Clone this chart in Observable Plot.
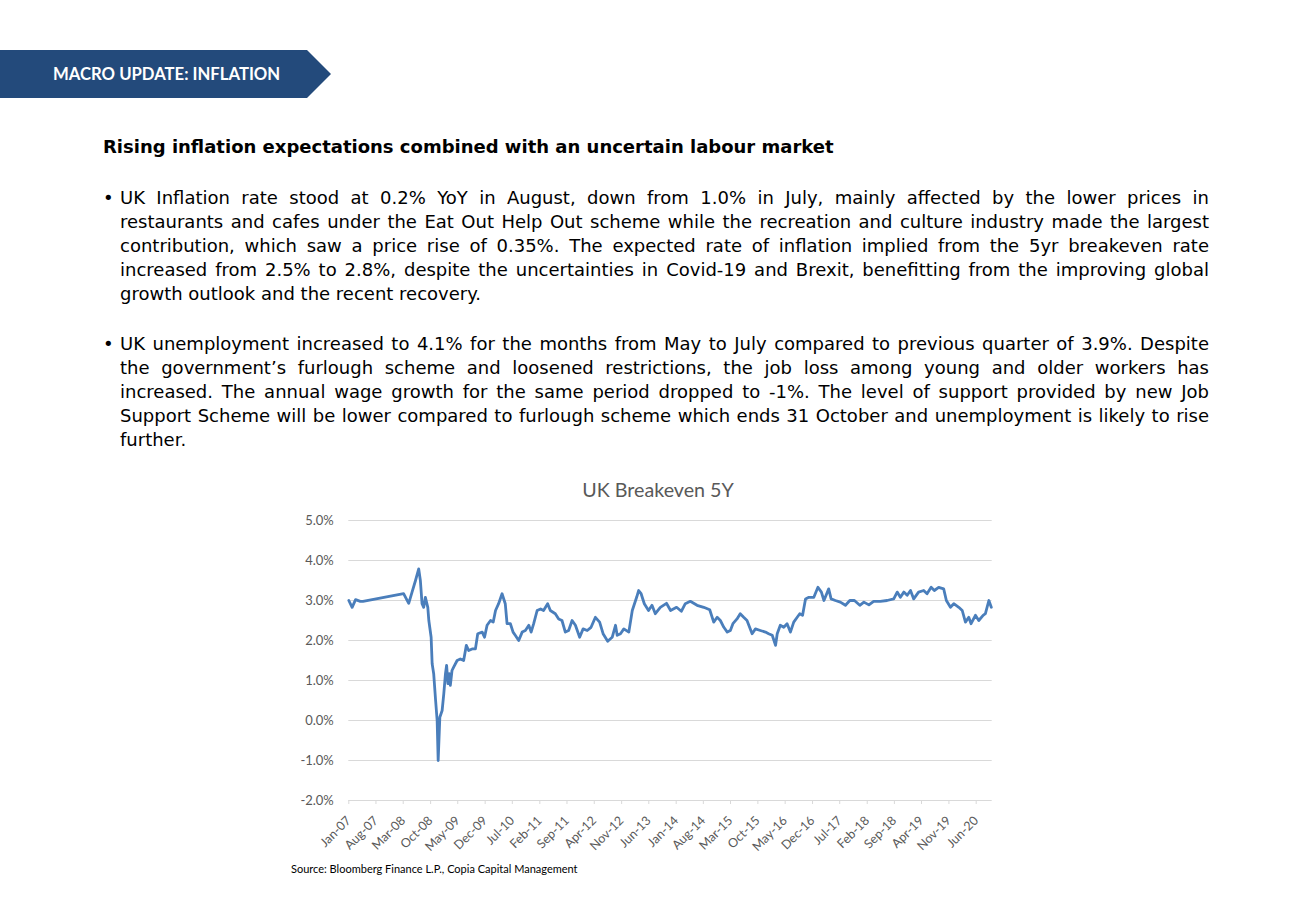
<!DOCTYPE html>
<html><head><meta charset="utf-8">
<script src="https://cdn.jsdelivr.net/npm/d3@7"></script>
<script src="https://cdn.jsdelivr.net/npm/@observablehq/plot@0.6"></script>
<style>
body{margin:0;width:1312px;height:908px;position:relative;background:#fff;overflow:hidden}
.abs{position:absolute}
#banner{left:0;top:50px}
#bannerText{left:53px;top:62px;font-family:Lato,"Open Sans",sans-serif;font-weight:700;font-size:16.7px;color:#fff;line-height:24px;white-space:nowrap}
#heading{left:103px;top:135px;font-family:"DejaVu Sans",sans-serif;font-weight:700;font-size:18px;line-height:24px;color:#000;white-space:nowrap}
.para{left:0;font-family:"DejaVu Sans",sans-serif;font-size:18px;line-height:24px;color:#000}
.ln{position:absolute;left:120px;white-space:nowrap}
.bul{position:absolute;left:103px}
#ctitle{left:0;width:1316px;text-align:center;top:478px;font-family:Lato,sans-serif;font-size:19.7px;color:#595959;line-height:24px}
#chart{left:0;top:500px}
#source{left:291px;top:862px;font-family:Lato,sans-serif;font-size:11px;color:#000;white-space:nowrap}
</style></head>
<body>
<svg id="banner" class="abs" width="340" height="50"><polygon points="0,0 307,0 331,24 307,48 0,48" fill="#234a7b"/></svg>
<div id="bannerText" class="abs">MACRO UPDATE: INFLATION</div>
<div id="heading" class="abs">Rising inflation expectations combined with an uncertain labour market</div>
<div id="p1" class="abs para"></div>
<div id="p2" class="abs para"></div>
<div id="ctitle" class="abs">UK Breakeven 5Y</div>
<div id="chart" class="abs"></div>
<div id="source" class="abs">Source: Bloomberg Finance L.P., Copia Capital Management</div>
<script>
const para1Lines = [
  "UK Inflation rate stood at 0.2% YoY in August, down from 1.0% in July, mainly affected by the lower prices in",
  "restaurants and cafes under the Eat Out Help Out scheme while the recreation and culture industry made the largest",
  "contribution, which saw a price rise of 0.35%. The expected rate of inflation implied from the 5yr breakeven rate",
  "increased from 2.5% to 2.8%, despite the uncertainties in Covid-19 and Brexit, benefitting from the improving global",
  "growth outlook and the recent recovery."
];
const para2Lines = [
  "UK unemployment increased to 4.1% for the months from May to July compared to previous quarter of 3.9%. Despite",
  "the government\u2019s furlough scheme and loosened restrictions, the job loss among young and older workers has",
  "increased. The annual wage growth for the same period dropped to -1%. The level of support provided by new Job",
  "Support Scheme will be lower compared to furlough scheme which ends 31 October and unemployment is likely to rise",
  "further."
];

const dates = [
"2007-01-01","2007-01-27","2007-02-23","2007-04-01","2007-04-22",
"2008-03-04","2008-04-13","2008-05-09","2008-06-05","2008-06-30","2008-07-13","2008-07-26","2008-08-08","2008-08-21",
"2008-09-09","2008-09-17","2008-10-05","2008-10-13","2008-10-25","2008-11-09","2008-11-21","2008-11-29","2008-12-12","2008-12-30",
"2009-01-12","2009-01-25","2009-02-03","2009-02-13","2009-02-24","2009-03-04","2009-03-17","2009-03-29","2009-04-26","2009-05-21",
"2009-06-16","2009-07-07","2009-07-25","2009-08-21","2009-09-16","2009-10-04","2009-11-08","2009-11-26","2009-12-16",
"2010-01-12","2010-02-02","2010-02-20","2010-03-16","2010-04-12","2010-05-07","2010-05-21","2010-06-16","2010-07-07","2010-07-24",
"2010-08-20","2010-09-16","2010-10-11","2010-11-07","2010-11-25","2010-12-15",
"2011-01-11","2011-02-07","2011-03-02","2011-04-03","2011-04-24","2011-06-02","2011-06-28","2011-07-24","2011-08-19","2011-09-14",
"2011-10-11","2011-11-06","2011-12-09",
"2012-01-05","2012-02-06","2012-03-07","2012-04-10","2012-05-13","2012-06-09","2012-07-15","2012-08-19","2012-09-14","2012-09-27",
"2012-10-23","2012-11-18","2012-12-27",
"2013-01-23","2013-02-26","2013-03-14","2013-04-02","2013-04-27","2013-05-30","2013-06-26","2013-07-22","2013-08-30","2013-10-17","2013-11-18",
"2014-01-04","2014-02-10","2014-03-13","2014-04-21","2014-06-13","2014-08-04","2014-09-20","2014-10-21","2014-11-17","2014-12-12",
"2015-01-08","2015-02-04","2015-02-28","2015-03-20","2015-04-21","2015-05-16","2015-06-12","2015-07-08","2015-08-17","2015-09-12",
"2015-10-20","2015-11-29","2015-12-24",
"2016-01-21","2016-02-16","2016-02-29","2016-03-24","2016-04-20","2016-05-16","2016-06-11","2016-07-07","2016-08-03","2016-08-23",
"2016-09-14","2016-10-07","2016-11-02","2016-12-11",
"2017-01-12","2017-02-08","2017-02-28","2017-04-06","2017-04-25","2017-05-28","2017-07-06","2017-08-15","2017-09-18","2017-10-24","2017-12-05",
"2018-01-06","2018-02-14","2018-03-23","2018-05-14","2018-07-06","2018-08-27","2018-09-23","2018-10-18","2018-11-14","2018-12-10",
"2019-01-05","2019-01-30","2019-03-09","2019-04-18","2019-05-14","2019-06-15","2019-07-10","2019-08-13","2019-09-21","2019-10-12",
"2019-11-13","2019-12-09",
"2020-01-17","2020-02-13","2020-03-09","2020-04-04","2020-04-22","2020-05-26","2020-06-21","2020-07-25","2020-08-12","2020-09-08","2020-09-27"
];
const breakeven = [
3.00,2.83,3.02,2.98,2.98,
3.17,2.93,3.21,3.50,3.79,3.50,2.92,2.83,3.08,
2.83,2.50,2.08,1.42,1.17,0.50,0.00,-1.00,0.08,0.25,
0.67,1.17,1.38,0.92,1.17,0.88,1.25,1.33,1.50,1.54,
1.50,1.88,1.75,1.79,1.79,2.17,2.21,2.08,2.38,
2.50,2.46,2.75,2.92,3.17,2.92,2.42,2.42,2.21,2.13,
2.00,2.21,2.25,2.38,2.21,2.42,
2.75,2.79,2.75,2.92,2.75,2.67,2.54,2.50,2.21,2.25,
2.50,2.38,2.08,
2.29,2.25,2.33,2.58,2.46,2.17,1.98,2.08,2.38,2.13,
2.17,2.29,2.21,
2.75,3.08,3.25,3.17,2.92,2.75,2.88,2.67,2.83,2.93,2.75,
2.83,2.73,2.92,2.98,2.88,2.83,2.77,2.46,2.58,2.50,
2.33,2.21,2.25,2.42,2.54,2.67,2.58,2.50,2.17,2.29,
2.25,2.21,2.17,
2.13,1.88,2.17,2.38,2.33,2.42,2.21,2.46,2.58,2.67,
2.63,3.04,3.08,3.08,
3.33,3.21,3.00,3.29,3.04,3.00,2.96,2.88,3.00,3.00,2.88,
2.96,2.89,2.98,2.98,3.00,3.04,3.21,3.08,3.21,3.13,
3.25,3.04,3.21,3.25,3.17,3.33,3.25,3.33,3.29,3.00,
2.83,2.92,
2.83,2.75,2.46,2.58,2.42,2.63,2.50,2.63,2.67,3.00,2.83
];
const xTicks = ["2007-01-01","2007-08-01","2008-03-01","2008-10-01","2009-05-01","2009-12-01","2010-07-01","2011-02-01",
"2011-09-01","2012-04-01","2012-11-01","2013-06-01","2014-01-01","2014-08-01","2015-03-01","2015-10-01","2016-05-01",
"2016-12-01","2017-07-01","2018-02-01","2018-09-01","2019-04-01","2019-11-01","2020-06-01"];
const yTicks = [-2, -1, 0, 1, 2, 3, 4, 5];
const xDomain = ["2007-01-01", "2020-10-04"];

const TEXT_WIDTH = 1089;
function fillPara(id, top, lines) {
  const el = document.getElementById(id);
  el.style.top = top + "px";
  el.style.width = "1312px";
  el.style.height = (lines.length * 24) + "px";
  const b = document.createElement("div");
  b.className = "bul"; b.style.top = "0px"; b.textContent = "\u2022";
  el.appendChild(b);
  lines.forEach((t, i) => {
    const d = document.createElement("div");
    d.className = "ln";
    d.style.top = (i * 24) + "px";
    d.textContent = t;
    el.appendChild(d);
    if (i < lines.length - 1) {
      const w = d.getBoundingClientRect().width;
      const gaps = (t.match(/ /g) || []).length;
      d.style.wordSpacing = ((TEXT_WIDTH - w) / gaps) + "px";
    }
  });
}
fillPara("p1", 186, para1Lines);
fillPara("p2", 332, para2Lines);

const parse = d3.utcParse("%Y-%m-%d");
const data = dates.map((d, i) => ({date: parse(d), value: breakeven[i]}));

const chart = Plot.plot({
  width: 1312,
  height: 360,
  marginLeft: 348.3,
  marginRight: 1312 - 991.7,
  marginTop: 20,
  marginBottom: 60,
  style: {fontFamily: "Lato, sans-serif", fontSize: "13px", color: "#595959", background: "transparent"},
  x: {type: "utc", domain: xDomain.map(parse), label: null},
  y: {domain: [-2, 5], label: null},
  marks: [
    Plot.gridY(yTicks, {stroke: "#d9d9d9", strokeOpacity: 1, strokeWidth: 1}),
    Plot.axisY(yTicks, {tickSize: 0, tickPadding: 15, tickFormat: d => d.toFixed(1) + "%", fill: "#595959", fontSize: 13, label: null}),
    Plot.axisX(xTicks.map(parse), {tickSize: 4, tickPadding: 14, tickRotate: -45, stroke: "#d9d9d9", fill: "#595959", fontSize: 12.5, tickFormat: d3.utcFormat("%b-%y"), label: null}),
    Plot.line(data, {x: "date", y: "value", stroke: "#4a7ebb", strokeWidth: 2.8, strokeLinejoin: "round"})
  ]
});
document.getElementById("chart").appendChild(chart);
</script>
</body></html>
